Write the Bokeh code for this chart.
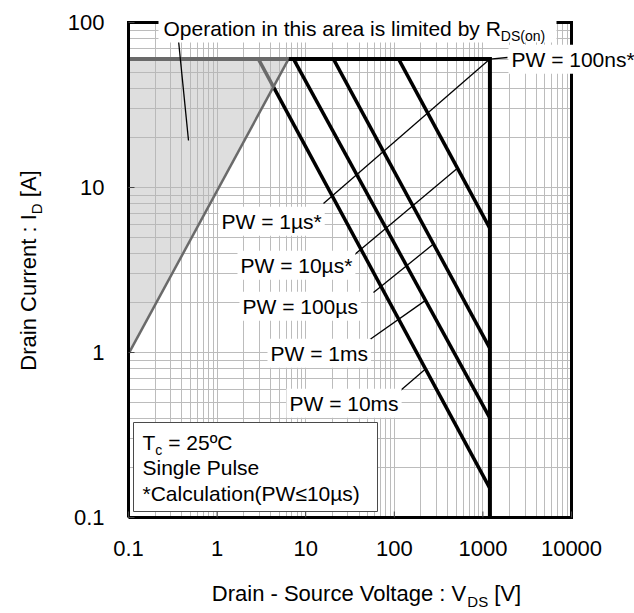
import math
from bokeh.plotting import figure
from bokeh.models import FixedTicker, Label, BoxAnnotation, Range1d, Grid
from bokeh.embed import file_html
from bokeh.resources import INLINE

# ---------------- data ----------------
vds_ticks = [0.1, 1, 10, 100, 1000, 10000]
id_ticks = [0.1, 1, 10, 100]
id_max = 60.0          # A  (pulsed drain current limit)
vds_max = 1200.0       # V  (drain-source voltage limit)
rds_v = [0.1, 6.4]     # RDS(on) limit line
rds_i = [0.98, 60.0]
pw_names = ["10µs", "100µs", "1ms", "10ms"]
pw_v_top = [112.0, 20.6, 7.3, 2.93]    # V where each PW line leaves ID max
pw_i_end = [5.65, 1.06, 0.40, 0.15]    # A where each PW line meets VDS max
pw_leader_v = [516.0, 277.0, 225.0, 225.0]  # V where leader touches line

FONT = "Liberation Sans"

# ---------------- layout helpers ----------------
X0, X1, Y0, Y1 = 128, 571, 22, 517   # plot area in px
W_, H_ = 634, 613
DX = (X1 - X0) / 5.0
DY = (Y1 - Y0) / 3.0


def xd(px):
    return 10 ** (-1 + (px - X0) / DX)


def yd(py):
    return 10 ** (-1 + (Y1 - py) / DY)


def ypx(v):
    return Y1 - (math.log10(v) + 1) * DY


AW = {' ': 278, '!': 278, '(': 333, ')': 333, '*': 389, '-': 333, '.': 278, ':': 278,
      '[': 278, ']': 278, '=': 584, 'A': 667, 'C': 722, 'D': 722, 'I': 278, 'O': 778,
      'P': 667, 'R': 722, 'S': 667, 'T': 611, 'V': 667, 'W': 944, 'a': 556, 'b': 556,
      'c': 500, 'd': 556, 'e': 556, 'g': 556, 'h': 556, 'i': 222, 'l': 222, 'm': 833,
      'n': 556, 'o': 556, 'p': 556, 'r': 333, 's': 500, 't': 278, 'u': 556, 'y': 500,
      'µ': 576, 'º': 365, '≤': 549}
MID = 0.35   # distance baseline -> text middle, in em


def tw(s, size):
    return sum(AW.get(c, 556) for c in s) * size / 1000.0


p = figure(width=W_, height=H_, x_axis_type="log", y_axis_type="log",
           x_range=Range1d(xd(0), xd(W_)), y_range=Range1d(yd(H_), yd(0)),
           x_axis_location=None, y_axis_location=None,
           output_backend="svg", toolbar_location=None, min_border=0)
p.outline_line_color = None
p.background_fill_color = "white"
p.border_fill_color = "white"

xminor = [k * 10 ** e for e in range(-1, 4) for k in range(2, 10)]
yminor = [k * 10 ** e for e in range(-1, 2) for k in range(2, 10)]
xt = FixedTicker(ticks=vds_ticks, minor_ticks=xminor)
yt = FixedTicker(ticks=id_ticks, minor_ticks=yminor)
has_cross = "cross_bounds" in Grid.properties()
for g, t, b, cb in ((p.xgrid, xt, (vds_ticks[0], vds_ticks[-1]), (id_ticks[0], id_ticks[-1])),
                    (p.ygrid, yt, (id_ticks[0], id_ticks[-1]), (vds_ticks[0], vds_ticks[-1]))):
    g.ticker = t
    g.bounds = b
    if has_cross:
        g.cross_bounds = cb
    g.grid_line_color = "#bcbcbc"
    g.minor_grid_line_color = "#bcbcbc"
    g.grid_line_width = 1
    g.minor_grid_line_width = 1

# ---------------- curves ----------------
def log_intersect(a1, a2, b1, b2):
    (x1, y1), (x2, y2) = [(math.log10(v), math.log10(i)) for v, i in (a1, a2)]
    (x3, y3), (x4, y4) = [(math.log10(v), math.log10(i)) for v, i in (b1, b2)]
    d = (x1 - x2) * (y3 - y4) - (y1 - y2) * (x3 - x4)
    t = ((x1 - x3) * (y3 - y4) - (y1 - y3) * (x3 - x4)) / d
    return 10 ** (x1 + t * (x2 - x1)), 10 ** (y1 + t * (y2 - y1))


def on_line(k, v):
    a = math.log10(pw_v_top[k]); b = math.log10(vds_max)
    ya = math.log10(id_max); yb = math.log10(pw_i_end[k])
    t = (math.log10(v) - a) / (b - a)
    return v, 10 ** (ya + t * (yb - ya))


GRAY = "#6a6a6a"
# RDS(on) limited area
p.patch([rds_v[0], rds_v[1], rds_v[0]], [rds_i[0], id_max, id_max],
        fill_color="#b5b5b5", fill_alpha=0.45, line_color=None)
p.line([rds_v[0], rds_v[1]], [id_max, id_max], line_color=GRAY, line_width=4)

# PW lines
for k in range(len(pw_names)):
    a = (pw_v_top[k], id_max)
    b = (vds_max, pw_i_end[k])
    if pw_v_top[k] < rds_v[1]:
        cx, cy = log_intersect(a, b, (rds_v[0], rds_i[0]), (rds_v[1], rds_i[1]))
        p.line([a[0], cx], [a[1], cy], line_color=GRAY, line_width=3.5)
        p.line([cx, b[0]], [cy, b[1]], line_color="black", line_width=3.5)
    else:
        p.line([a[0], b[0]], [a[1], b[1]], line_color="black", line_width=3.5)

p.line(rds_v, rds_i, line_color=GRAY, line_width=2.5)
# 100 ns / 1 µs boundary
p.line([rds_v[1], vds_max, vds_max], [id_max, id_max, id_ticks[0]],
       line_color="black", line_width=4, line_join="miter")

# ---------------- leaders ----------------
leaders = [
    ((507, 57), (vds_max, id_max)),
    ((323, 203), (vds_max, id_max)),
] + [((lx, ly), on_line(k, pw_leader_v[k]))
     for k, (lx, ly) in enumerate([(353, 255), (373, 292), (368, 340), (400, 390)])]
lxs = [[xd(a[0]), b[0]] for a, b in leaders] + [[xd(178), xd(188)]]
lys = [[yd(a[1]), b[1]] for a, b in leaders] + [[yd(40), yd(140)]]
p.multi_line(lxs, lys, line_color="black", line_width=1.3)

# outer frame of the plot area
fx = [vds_ticks[0], vds_ticks[-1], vds_ticks[-1], vds_ticks[0], vds_ticks[0]]
fy = [id_ticks[0], id_ticks[0], id_ticks[-1], id_ticks[-1], id_ticks[0]]
p.line(fx, fy, line_color="black", line_width=3, line_join="miter")

# small inward tick marks
tk = 6
p.segment(x0=[vds_ticks[0]] * len(id_ticks), x1=[xd(X0 + tk)] * len(id_ticks),
          y0=id_ticks, y1=id_ticks, line_color="#444444", line_width=1)
p.segment(x0=vds_ticks, x1=vds_ticks, y0=[id_ticks[0]] * len(vds_ticks),
          y1=[yd(Y1 - tk)] * len(vds_ticks), line_color="#444444", line_width=1)

# condition box
p.quad(left=[xd(133)], right=[xd(377)], top=[yd(422)], bottom=[yd(511)],
       fill_color="white", line_color="#4a4a4a", line_width=1)

# ---------------- annotations ----------------
if not has_cross:
    for kw in (dict(right=xd(X0 - 1.5)), dict(left=xd(X1 + 1.5)),
               dict(top=yd(Y1 + 1.5)), dict(bottom=yd(Y0 - 1.5))):
        p.add_layout(BoxAnnotation(fill_color="white", fill_alpha=1, line_color=None, **kw))
p.add_layout(BoxAnnotation(left=xd(158), right=xd(556), top=yd(9), bottom=yd(42),
                           fill_color="white", fill_alpha=1, line_color=None))


def put(txt, bx, by, fs, align="left", vertical=False, bg=None):
    """place text whose baseline starts at px (bx, by)"""
    if vertical:
        ax, ay, ang = bx - MID * fs, by, math.pi / 2
    else:
        ax, ay, ang = bx, by - MID * fs, 0
    kw = dict(background_fill_color=bg, padding=3) if bg else {}
    p.add_layout(Label(x=xd(ax), y=yd(ay), text=txt, text_font=FONT,
                       text_font_size=f"{fs}px", text_align=align,
                       text_baseline="middle", angle=ang, text_color="black", **kw))


def rich(parts, x, y, size, align="left", vertical=False, bg=None):
    sub = round(size * 0.66)
    widths = [tw(t, sub if s else size) for t, s in parts]
    off = -sum(widths) / 2 if align == "center" else 0
    for (t, s), w in zip(parts, widths):
        fs = sub if s else size
        lead = len(t) - len(t.lstrip(" "))
        o = off + tw(" " * lead, fs)
        txt = t.strip(" ")
        drop = size * 0.24 if s else 0
        if vertical:
            put(txt, x + drop, y - o, fs, vertical=True, bg=bg)
        else:
            put(txt, x + o, y + drop, fs, bg=bg)
        off += w


pw_labels = [("PW = 100ns*", 508, 66), ("PW = 1µs*", 218, 228),
             ("PW = 10µs*", 237, 272), ("PW = 100µs", 239, 313),
             ("PW = 1ms", 267, 360), ("PW = 10ms", 286, 410)]
for t, x, y in pw_labels:
    rich([(t, 0)], x, y, 21, bg="white")

rich([("Operation in this area is limited by R", 0), ("DS(on)", 1)], 163, 35, 21)
rich([("T", 0), ("c", 1), (" = 25ºC", 0)], 142, 449, 21)
rich([("Single Pulse", 0)], 142, 474, 21)
rich([("*Calculation(PW≤10µs)", 0)], 142, 500, 21)

# tick labels
for v in vds_ticks:
    p.add_layout(Label(x=v, y=yd(548), text=f"{v:g}", text_font=FONT,
                       text_font_size="22px", text_align="center",
                       text_baseline="middle", text_color="black"))
for v in id_ticks:
    p.add_layout(Label(x=xd(104), y=v, text=f"{v:g}", text_font=FONT,
                       text_font_size="22px", text_align="right",
                       text_baseline="middle", text_color="black"))

# axis titles
rich([("Drain - Source Voltage : V", 0), ("DS", 1), (" [V]", 0)], 366, 601, 22,
     align="center")
rich([("Drain Current : I", 0), ("D", 1), (" [A]", 0)], 36, 270, 22,
     align="center", vertical=True)

open("out.html", "w").write(file_html(p, INLINE))
